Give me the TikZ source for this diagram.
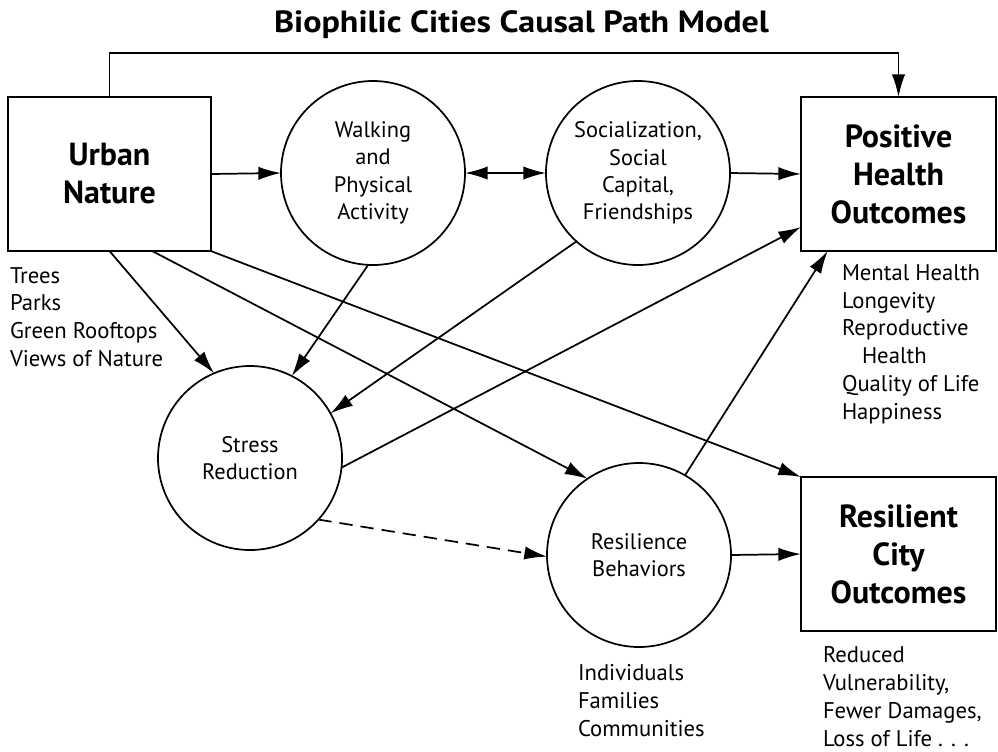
\documentclass[tikz,border=0pt]{standalone}
\usepackage{fontspec}
\setmainfont{PT Sans}
\usetikzlibrary{arrows.meta,calc}
\begin{document}
\begin{tikzpicture}[x=0.75pt,y=-0.75pt,
  every node/.style={inner sep=0pt, outer sep=0pt},
  line/.style={line width=1.3pt, black},
  tip/.tip={Latex[length=17pt,width=10pt]},
  arr/.style={line, -tip},
  darr/.style={line, tip-tip},
  outbox/.style={draw, line width=1.4pt, rectangle, minimum width=152pt,
    minimum height=115.5pt, align=center,
    font=\fontsize{24pt}{28.5pt}\selectfont\bfseries},
  factor/.style={draw, line width=1.3pt, circle, minimum size=138pt,
    align=center, font=\fontsize{16.8pt}{20.5pt}\selectfont},
  notes/.style={align=left, anchor=west, font=\fontsize{17pt}{20.8pt}\selectfont},
  titletext/.style={anchor=base, font=\fontsize{23pt}{28pt}\selectfont\bfseries}
]
\useasboundingbox (0,0) rectangle (998,751);

% title
\node[titletext] (title) at (521.5,32) {\scalebox{1.11}[1]{Biophilic Cities Causal Path Model}};

% outcome and source boxes
\node[outbox] (urban) at (109.5,174) {Urban\\Nature};
\node[outbox, minimum width=146.25pt] (ph) at (898.5,174) {Positive\\Health\\Outcomes};
\node[outbox, minimum width=146.25pt] (rc) at (898.5,554) {Resilient\\City\\Outcomes};

% mediating factors
\node[factor] (walk) at (373,173) {Walking\\and\\Physical\\Activity};
\node[factor] (soc) at (638,173) {Socialization,\\Social\\Capital,\\Friendships};
\node[factor] (stress) at (250,458) {Stress\\Reduction};
\node[factor] (res) at (639,555) {Resilience\\Behaviors};

% lists
\node[notes] (natlist) at (10,317) {Trees\\Parks\\Green Rooftops\\Views of Nature};
\node[notes] (hlist) at (842,344) {Mental Health\\Longevity\\Reproductive\\\hspace*{15pt}Health\\Quality of Life\\Happiness};
\node[notes] (rlist) at (578,700.5) {Individuals\\Families\\Communities};
\node[notes] (clist) at (823,696.5) {Reduced\\Vulnerability,\\Fewer Damages,\\Loss of Life . . .};

% connectors
\draw[arr] (urban.north) -- ++(0,-44) -| (ph.north);
\draw[arr] (urban.east) -- (walk.west);
\draw[darr] (walk.east) -- (soc.west);
\draw[arr] (soc.east) -- (ph.west);
\draw[arr] (urban.south) -- (stress.113);
\draw[arr] (walk.267) -- (stress.63);
\draw[arr] (soc.228) -- (stress.29);
\draw[arr] (stress.-6) -- ([yshift=18pt]ph.south west);
\draw[arr] ([xshift=32pt]urban.south) -- (res.124);
\draw[arr] (urban.south east) -- (rc.north west);
\draw[arr] (res.60) -- ([xshift=20pt]ph.south west);
\draw[arr] (res.east) -- (rc.west);
\draw[arr, dashed, dash pattern=on 10pt off 6pt] (stress.-42) -- (res.181);
\end{tikzpicture}
\end{document}
